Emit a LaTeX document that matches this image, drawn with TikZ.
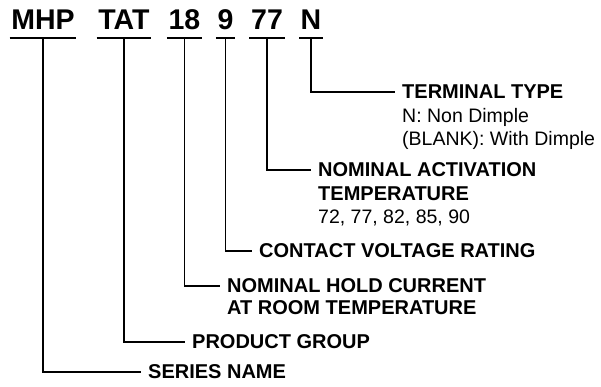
\documentclass[tikz,border=0pt]{standalone}
\usepackage{fontspec}
\setmainfont{Liberation Sans}
\usetikzlibrary{positioning}

\begin{document}
\begin{tikzpicture}[
    x=1pt, y=1pt,
    code/.style={font=\fontsize{28.5}{30}\selectfont\bfseries, anchor=base, inner xsep=1.5pt, inner ysep=0pt, text depth=9pt},
    head/.style={font=\fontsize{20}{23}\selectfont\bfseries, anchor=west, inner xsep=7pt},
    sub/.style={font=\fontsize{19.5}{23}\selectfont, anchor=base west, inner xsep=7pt},
    subhead/.style={sub, font=\fontsize{20}{23}\selectfont\bfseries},
    bar/.style={line width=2.5pt},
    lead/.style={line width=1.2pt}
]
    \useasboundingbox (0,0) rectangle (601,-386);

    \node[code] (MHP) at (43,-29) {MHP};
    \node[code] (TAT) at (124,-29) {TAT};
    \node[code] (C18) at (184.5,-29) {18};
    \node[code] (C9) at (225.5,-29) {9};
    \node[code] (C77) at (267,-29) {77};
    \node[code] (CN) at (311,-29) {N};

    \node[head] (term) at (395,-92) {TERMINAL TYPE};
    \node[sub, below=23.5pt of term.base west, anchor=base west] (term1) {N: Non Dimple};
    \node[sub, below=23.5pt of term1.base west, anchor=base west] (term2) {(BLANK): With Dimple};
    \node[head] (activ) at (311,-170) {NOMINAL ACTIVATION};
    \node[subhead, below=24pt of activ.base west, anchor=base west] (activ1) {TEMPERATURE};
    \node[sub, below=22.5pt of activ1.base west, anchor=base west] (activ2) {72, 77, 82, 85, 90};
    \node[head] (volt) at (252,-251) {CONTACT VOLTAGE RATING};
    \node[head] (hold) at (220,-286) {NOMINAL HOLD CURRENT};
    \node[subhead, below=21.5pt of hold.base west, anchor=base west] (hold1) {AT ROOM TEMPERATURE};
    \node[head] (group) at (185,-342) {PRODUCT GROUP};
    \node[head] (series) at (141,-372) {SERIES NAME};

    % underlines and leaders
    \foreach \c in {MHP, TAT, C18, C9, C77, CN}
        \draw[bar] (\c.south west) -- (\c.south east);
    \draw[lead] (CN.south) |- (term.west);
    \draw[lead] (C77.south) |- (activ.west);
    \draw[lead] (C9.south) |- (volt.west);
    \draw[lead] (C18.south) |- (hold.west);
    \draw[lead] (TAT.south) |- (group.west);
    \draw[lead] (MHP.south) |- (series.west);
\end{tikzpicture}
\end{document}
